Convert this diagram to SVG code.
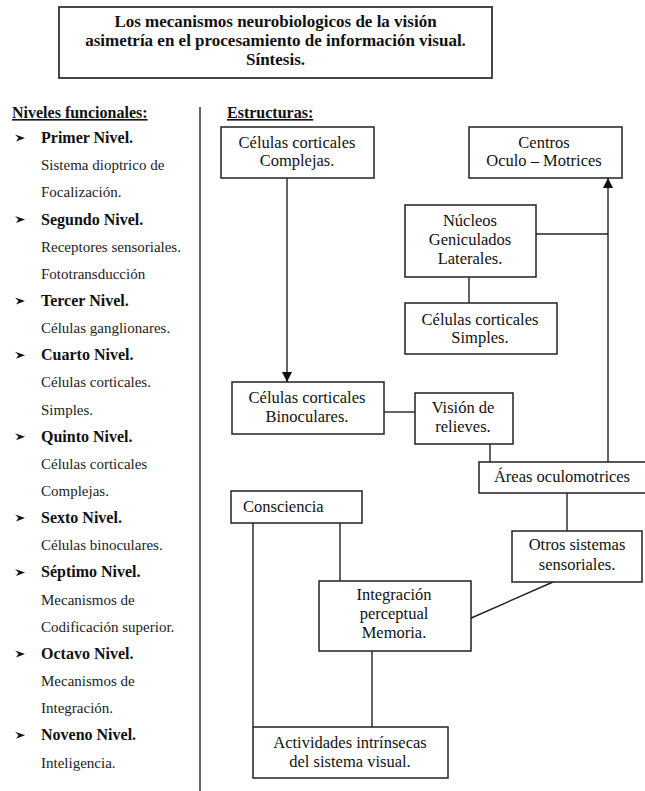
<svg xmlns="http://www.w3.org/2000/svg" width="645" height="791" viewBox="0 0 645 791">
<defs>
<style>
text{font-family:"Liberation Serif","DejaVu Serif","Noto Serif",serif}
.box{fill:#fff;stroke:#222;stroke-width:1.5}
.t{font-size:16.5px;fill:#111;text-anchor:middle}
.tl{font-size:16.5px;fill:#111}
.hd{font-size:16px;font-weight:bold;fill:#111;text-decoration:underline}
.lv{font-size:16px;font-weight:bold;fill:#111}
.ds{font-size:15px;fill:#222}
.ttl{font-size:17px;font-weight:bold;fill:#111;text-anchor:middle}
.c{stroke:#222;stroke-width:1.4;fill:none}
.bul{fill:#111}
</style>
<marker id="arr" markerWidth="10" markerHeight="10" refX="10" refY="5" orient="auto" markerUnits="userSpaceOnUse">
<path d="M0,0 L10,5 L0,10 Z" fill="#111"/>
</marker>
<path id="bl" d="M15,-8.5 L25,-5 L16,-1.5 L18.5,-5 Z"/>
</defs>
<rect width="645" height="791" fill="#fff"/>

<g id="title">
<rect x="59" y="7" width="433" height="71" fill="#fff" stroke="#333" stroke-width="1.8"/>
<text class="ttl" x="275.5" y="27">Los mecanismos neurobiologicos de la visión</text>
<text class="ttl" x="275.5" y="46">asimetría en el procesamiento de información visual.</text>
<text class="ttl" x="275.5" y="65">Síntesis.</text>
</g>

<g id="divider">
<line x1="200" y1="107" x2="200" y2="791" stroke="#333" stroke-width="1.5"/>
</g>

<g id="levels">
<text class="hd" x="12" y="118">Niveles funcionales:</text>
<g class="bul">
<use href="#bl" y="143"/>
<use href="#bl" y="224.5"/>
<use href="#bl" y="305.9"/>
<use href="#bl" y="360.2"/>
<use href="#bl" y="441.7"/>
<use href="#bl" y="523.1"/>
<use href="#bl" y="577.4"/>
<use href="#bl" y="658.9"/>
<use href="#bl" y="740.3"/>
</g>
<text class="lv" x="41" y="143">Primer Nivel.</text>
<text class="ds" x="41" y="170">Sistema dioptrico de</text>
<text class="ds" x="41" y="197.3">Focalización.</text>
<text class="lv" x="41" y="224.5">Segundo Nivel.</text>
<text class="ds" x="41" y="251.6">Receptores sensoriales.</text>
<text class="ds" x="41" y="278.8">Fototransducción</text>
<text class="lv" x="41" y="305.9">Tercer Nivel.</text>
<text class="ds" x="41" y="333">Células ganglionares.</text>
<text class="lv" x="41" y="360.2">Cuarto Nivel.</text>
<text class="ds" x="41" y="387.4">Células corticales.</text>
<text class="ds" x="41" y="414.5">Simples.</text>
<text class="lv" x="41" y="441.7">Quinto Nivel.</text>
<text class="ds" x="41" y="468.8">Células corticales</text>
<text class="ds" x="41" y="496">Complejas.</text>
<text class="lv" x="41" y="523.1">Sexto Nivel.</text>
<text class="ds" x="41" y="550.3">Células binoculares.</text>
<text class="lv" x="41" y="577.4">Séptimo Nivel.</text>
<text class="ds" x="41" y="604.6">Mecanismos de</text>
<text class="ds" x="41" y="631.7">Codificación superior.</text>
<text class="lv" x="41" y="658.9">Octavo Nivel.</text>
<text class="ds" x="41" y="686">Mecanismos de</text>
<text class="ds" x="41" y="713.2">Integración.</text>
<text class="lv" x="41" y="740.3">Noveno Nivel.</text>
<text class="ds" x="41" y="767.5">Inteligencia.</text>
</g>

<text class="hd" x="227" y="118">Estructuras:</text>

<g id="connectors">
<line class="c" x1="287" y1="178" x2="287" y2="382" marker-end="url(#arr)"/>
<line class="c" x1="608" y1="462" x2="608" y2="178" marker-end="url(#arr)"/>
<line class="c" x1="536" y1="234" x2="608" y2="234"/>
<line class="c" x1="469" y1="277" x2="469" y2="303"/>
<line class="c" x1="383" y1="412" x2="415" y2="412"/>
<line class="c" x1="490" y1="444" x2="490" y2="462"/>
<line class="c" x1="567" y1="493" x2="567" y2="531"/>
<line class="c" x1="553" y1="582" x2="469" y2="619"/>
<line class="c" x1="340" y1="523" x2="340" y2="581"/>
<line class="c" x1="253" y1="523" x2="253" y2="727"/>
<line class="c" x1="372" y1="651" x2="372" y2="727"/>
</g>

<g id="complejas">
<rect class="box" x="221" y="127" width="153" height="51"/>
<text class="t" x="297" y="148">Células corticales</text>
<text class="t" x="297" y="166">Complejas.</text>
</g>

<g id="centros">
<rect class="box" x="469" y="127" width="153" height="51"/>
<text class="t" x="544" y="148">Centros</text>
<text class="t" x="544" y="166">Oculo – Motrices</text>
</g>

<g id="nucleos">
<rect class="box" x="405" y="205" width="131" height="72"/>
<text class="t" x="470" y="226">Núcleos</text>
<text class="t" x="470" y="245">Geniculados</text>
<text class="t" x="470" y="264">Laterales.</text>
</g>

<g id="simples">
<rect class="box" x="405" y="303" width="152" height="51"/>
<text class="t" x="480" y="325">Células corticales</text>
<text class="t" x="480" y="343">Simples.</text>
</g>

<g id="binoculares">
<rect class="box" x="232" y="382" width="152" height="52"/>
<text class="t" x="307" y="403">Células corticales</text>
<text class="t" x="307" y="422">Binoculares.</text>
</g>

<g id="vision">
<rect class="box" x="415" y="393" width="98" height="51"/>
<text class="t" x="463" y="413">Visión de</text>
<text class="t" x="463" y="432">relieves.</text>
</g>

<g id="areas">
<rect class="box" x="479" y="462" width="172" height="31"/>
<text class="t" x="562" y="482">Áreas oculomotrices</text>
</g>

<g id="consciencia">
<rect class="box" x="231" y="491" width="131" height="32"/>
<text class="tl" x="243" y="512">Consciencia</text>
</g>

<g id="otros">
<rect class="box" x="512" y="531" width="130" height="51"/>
<text class="t" x="577" y="550">Otros sistemas</text>
<text class="t" x="577" y="570">sensoriales.</text>
</g>

<g id="integracion">
<rect class="box" x="319" y="581" width="152" height="70"/>
<text class="t" x="394" y="600">Integración</text>
<text class="t" x="394" y="619">perceptual</text>
<text class="t" x="394" y="638">Memoria.</text>
</g>

<g id="actividades">
<rect class="box" x="253" y="727" width="195" height="51"/>
<text class="t" x="350" y="748">Actividades intrínsecas</text>
<text class="t" x="350" y="767">del sistema visual.</text>
</g>
</svg>
